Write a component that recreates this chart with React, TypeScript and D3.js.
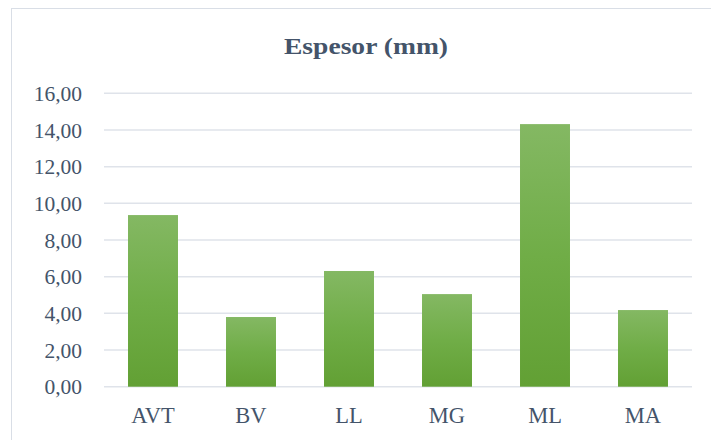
import React from "react";
import * as d3 from "d3";

const categories = ["AVT", "BV", "LL", "MG", "ML", "MA"];
const values = [9.36, 3.8, 6.31, 5.05, 14.32, 4.18];
const yTicks = [0, 2, 4, 6, 8, 10, 12, 14, 16];
const title = "Espesor (mm)";

const W = 711;
const H = 440;
const plot = { left: 104, right: 692, top: 93.3, bottom: 386.7 };
const textColor = "#44546A";
const gridColor = "#DFE3EA";
const serif = "Liberation Serif, Times New Roman, Times, DejaVu Serif, serif";

export default function App() {
  const x = d3
    .scaleBand<string>()
    .domain(categories)
    .range([plot.left, plot.right])
    .paddingInner(0.49)
    .paddingOuter(0.245);
  const y = d3.scaleLinear().domain([0, 16]).range([plot.bottom, plot.top]);
  const fmt = (v: number) => d3.format(".2f")(v).replace(".", ",");

  return (
    <div style={{ position: "absolute", left: 0, top: 0, width: W, height: H, overflow: "hidden" }}>
      <svg width={W} height={H} style={{ display: "block", background: "#fff", fontFamily: serif }}>
        <defs>
          <linearGradient id="barGrad" x1="0" y1="0" x2="0" y2="1">
            <stop offset="0%" stopColor="#84B863" />
            <stop offset="50%" stopColor="#70AD47" />
            <stop offset="100%" stopColor="#62A034" />
          </linearGradient>
        </defs>
        <rect x={11.5} y={8.5} width={W + 20} height={H + 20} fill="#fff" stroke="#D9DEE6" strokeWidth={1} />
        <text
          x={366}
          y={54.3}
          textAnchor="middle"
          textLength={164}
          lengthAdjust="spacingAndGlyphs"
          style={{ fontFamily: serif, fontWeight: 700, fontSize: 24 }}
          fill={textColor}
        >
          {title}
        </text>
        {yTicks.map((t) => (
          <g key={t}>
            <line x1={plot.left} x2={plot.right} y1={y(t)} y2={y(t)} stroke={gridColor} strokeWidth={1.5} />
            <text
              x={82}
              y={y(t)}
              dy="0.35em"
              textAnchor="end"
              style={{ fontFamily: serif, fontSize: 21.5 }}
              fill={textColor}
            >
              {fmt(t)}
            </text>
          </g>
        ))}
        {categories.map((c, i) => (
          <rect
            key={c}
            x={x(c)}
            y={y(values[i])}
            width={x.bandwidth()}
            height={y(0) - y(values[i])}
            fill="url(#barGrad)"
          />
        ))}
        {categories.map((c) => (
          <text
            key={c}
            x={(x(c) as number) + x.bandwidth() / 2}
            y={423.3}
            textAnchor="middle"
            style={{ fontFamily: serif, fontSize: 22.5 }}
            fill={textColor}
          >
            {c}
          </text>
        ))}
      </svg>
    </div>
  );
}
